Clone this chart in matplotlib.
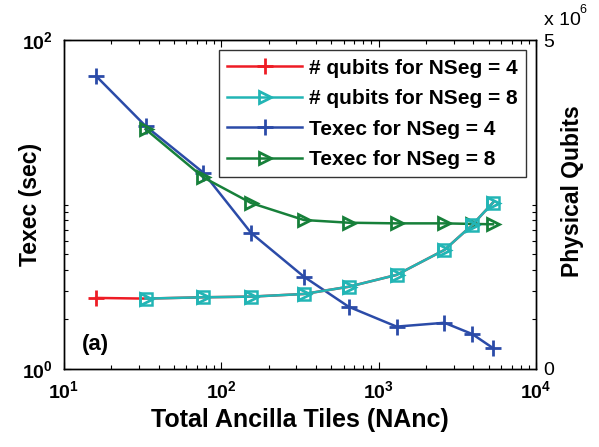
import matplotlib
matplotlib.use('Agg')
import matplotlib.pyplot as plt
import numpy as np

# --- style, roughly MATLAB-like ---
plt.rcParams['font.family'] = ['Liberation Sans', 'DejaVu Sans']
plt.rcParams['font.weight'] = 'bold'
plt.rcParams['axes.linewidth'] = 1.0
plt.rcParams['xtick.direction'] = 'in'
plt.rcParams['ytick.direction'] = 'in'
plt.rcParams['mathtext.fontset'] = 'custom'
plt.rcParams['mathtext.rm'] = 'Liberation Sans:bold'
plt.rcParams['mathtext.bf'] = 'Liberation Sans:bold'

# --- data ---
nanc4 = [16, 33, 77, 155, 335, 645, 1300, 2620, 3940, 5330]
texec4 = [60.4, 30.0, 15.6, 6.7, 3.64, 2.39, 1.81, 1.91, 1.63, 1.34]
qubits4 = [1.08e6, 1.07e6, 1.09e6, 1.10e6, 1.14e6, 1.25e6, 1.43e6, 1.81e6, 2.19e6, 2.53e6]

nanc8 = [33, 77, 155, 335, 645, 1300, 2620, 3940, 5330]
texec8 = [28.7, 14.6, 10.2, 8.05, 7.75, 7.68, 7.68, 7.62, 7.58]
qubits8 = [1.07e6, 1.09e6, 1.10e6, 1.14e6, 1.25e6, 1.43e6, 1.81e6, 2.19e6, 2.53e6]

labels = ['# qubits for NSeg = 4', '# qubits for NSeg = 8',
          'Texec for NSeg = 4', 'Texec for NSeg = 8']
c_red, c_cyan, c_blue, c_green = '#ee1c25', '#22b5b5', '#2b4ba8', '#17803a'

x_ticks = [10, 100, 1000, 10000]
x_ticklabels = [r'$\mathbf{10^{1}}$', r'$\mathbf{10^{2}}$', r'$\mathbf{10^{3}}$', r'$\mathbf{10^{4}}$']

fig = plt.figure(figsize=(5.99, 4.47), dpi=100)
ax = fig.add_axes([0.1068, 0.1745, 0.788, 0.736])
ax2 = ax.twinx()

# left axis: execution time
l3, = ax.plot(nanc4, texec4, color=c_blue, lw=1.8, marker='+', ms=12, mew=2)
l4, = ax.plot(nanc8, texec8, color=c_green, lw=1.8, marker='>', ms=9,
              mfc='none', mew=2)
ax.set_xscale('log')
ax.set_yscale('log')
ax.set_xlim(10, 10000)
ax.set_ylim(1, 100)
ax.set_xticks(x_ticks)
ax.set_xticklabels(x_ticklabels, fontsize=14)
ax.set_yticks([1, 100])
ax.set_yticklabels([r'$\mathbf{10^{0}}$', r'$\mathbf{10^{2}}$'], fontsize=14)
ax.set_yticks(list(range(2, 11)), minor=True)
ax.yaxis.set_minor_formatter(plt.NullFormatter())
ax.tick_params(which='major', length=5, width=0.8, top=True, pad=8)
ax.tick_params(which='minor', length=3, width=0.8, top=True, right=True)
ax.tick_params(axis='y', which='major', right=False)
ax.set_xlabel('Total Ancilla Tiles (NAnc)', fontsize=18, fontweight='bold', labelpad=4)
ax.set_ylabel('Texec (sec)', fontsize=16.5, fontweight='bold')
ax.yaxis.set_label_coords(-0.046, 0.5)

# right axis: physical qubits
l1, = ax2.plot(nanc4, qubits4, color=c_red, lw=1.8, marker='+', ms=12, mew=2,
               markevery=[0])
ax2.plot(nanc8, qubits8, color=c_cyan, lw=1.8, marker='s', ms=8, mfc='none',
         mew=1.8, ls='none')
l2, = ax2.plot(nanc8, qubits8, color=c_cyan, lw=1.8, marker='>', ms=9,
               mfc='none', mew=2)
ax2.set_ylim(0, 5e6)
ax2.set_yticks([0, 5e6])
ax2.set_yticklabels(['0', '5'], fontsize=14, fontweight='normal')
ax2.tick_params(axis='y', length=0, pad=5)
ax2.set_ylabel('Physical Qubits', fontsize=16.5, fontweight='bold')
ax2.yaxis.set_label_coords(1.053, 0.54)

# the "x 10^6" multiplier above the right axis
fig.text(0.908, 0.945, 'x 10', fontsize=14, fontweight='normal')
fig.text(0.968, 0.972, '6', fontsize=9, fontweight='normal')

leg = ax2.legend([l1, l2, l3, l4], labels, loc='upper right',
                 frameon=True, fancybox=False, edgecolor='black',
                 handlelength=3.6, borderaxespad=0.5, labelspacing=0.55,
                 borderpad=0.4, handletextpad=0.3, prop={'weight': 'bold', 'size': 15})
leg.get_frame().set_linewidth(1.0)

ax.text(0.038, 0.058, '(a)', transform=ax.transAxes, fontsize=16,
        fontweight='bold')

fig.savefig('out.png', dpi=100)
